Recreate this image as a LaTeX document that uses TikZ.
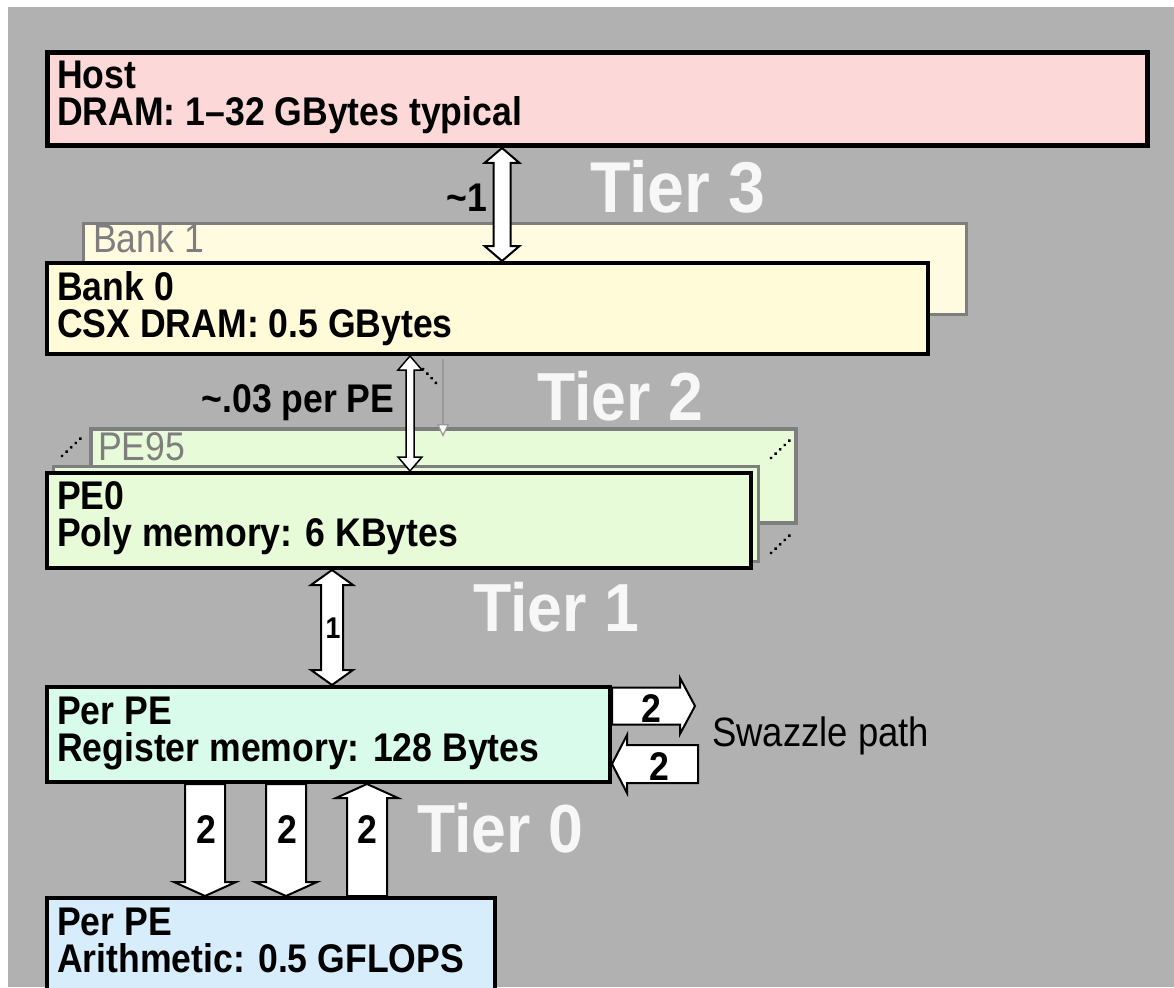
\documentclass[tikz,border=0pt]{standalone}
\usepackage{fontspec}
\setmainfont{Liberation Sans}
\usetikzlibrary{calc,arrows.meta}

\definecolor{bgc}{HTML}{B1B1B1}
\definecolor{hostc}{HTML}{FCD8D8}
\definecolor{bankc}{HTML}{FFFAD8}
\definecolor{bankbc}{HTML}{FFFBE0}
\definecolor{pec}{HTML}{E8FBD8}
\definecolor{regc}{HTML}{D9FBEC}
\definecolor{arc}{HTML}{D8EDFB}
\definecolor{ghostc}{HTML}{7E7E7E}
\definecolor{tierc}{HTML}{F7F7F7}

% narrow lettering used throughout
\newcommand\cond[1]{\scalebox{0.89}[1]{#1}}
\newcommand\condt[1]{\scalebox{0.92}[1]{#1}}

% one-headed hollow block arrow, vertical: [style]{from}{to}{shaft half}{head half}{head length}
\newcommand\blockv[6][]{%
  \draw[blockarrow,#1] let \p1=(#2),\p2=(#3),\n1={(\y2-\y1)/abs(\y2-\y1)} in
    (\x1-#4,\y1) -- (\x1-#4,\y2-\n1*#6) -- (\x1-#5,\y2-\n1*#6) -- (\x1,\y2)
    -- (\x1+#5,\y2-\n1*#6) -- (\x1+#4,\y2-\n1*#6) -- (\x1+#4,\y1) -- cycle;}
% two-headed hollow block arrow, vertical
\newcommand\blockvv[6][]{%
  \draw[blockarrow,#1] let \p1=(#2),\p2=(#3),\n1={(\y2-\y1)/abs(\y2-\y1)} in
    (\x1,\y1) -- (\x1+#5,\y1+\n1*#6) -- (\x1+#4,\y1+\n1*#6) -- (\x1+#4,\y2-\n1*#6)
    -- (\x1+#5,\y2-\n1*#6) -- (\x1,\y2) -- (\x1-#5,\y2-\n1*#6) -- (\x1-#4,\y2-\n1*#6)
    -- (\x1-#4,\y1+\n1*#6) -- (\x1-#5,\y1+\n1*#6) -- cycle;}
% one-headed hollow block arrow, horizontal
\newcommand\blockh[6][]{%
  \draw[blockarrow,#1] let \p1=(#2),\p2=(#3),\n1={(\x2-\x1)/abs(\x2-\x1)} in
    (\x1,\y1-#4) -- (\x2-\n1*#6,\y1-#4) -- (\x2-\n1*#6,\y1-#5) -- (\x2,\y1)
    -- (\x2-\n1*#6,\y1+#5) -- (\x2-\n1*#6,\y1+#4) -- (\x1,\y1+#4) -- cycle;}

\tikzset{
  blockarrow/.style={draw=black, fill=white, line width=2pt, line join=miter},
  blk/.style={draw=black, rectangle, inner sep=0pt, line width=4pt},
  ghost/.style={draw=ghostc, rectangle, inner sep=0pt, line width=3.5pt},
  txt/.style={anchor=base west, inner sep=0pt, text=black,
    font=\fontsize{40}{42}\selectfont\bfseries},
  gtxt/.style={anchor=base west, inner sep=0pt, text=ghostc,
    font=\fontsize{40}{42}\selectfont},
  num/.style={inner sep=0pt, font=\fontsize{40}{42}\selectfont\bfseries},
  tier/.style={inner sep=0pt, text=tierc, font=\fontsize{68}{70}\selectfont\bfseries},
  more/.style={draw=black, line width=3.3pt, line cap=round, dash pattern=on 0.1pt off 6.2pt},
}

\begin{document}
\begin{tikzpicture}[x=1pt,y=-1pt]
\clip (0,0) rectangle (1174,987);
\fill[white] (0,0) rectangle (1174,987);
\fill[bgc] (8,7) rectangle (1174,987);

% cards stacked behind the front ones
\node[ghost, fill=bankbc, minimum width=883pt, minimum height=91pt] (bank1) at (525,269) {};
\node[gtxt] (bank1t) at (93,252) {\cond{Bank 1}};
\node[ghost, fill=pec, minimum width=705pt, minimum height=94pt] (pe95) at (443.5,476) {};
\node[gtxt] (pe95t) at (98,460) {\cond{PE95}};
\node[ghost, fill=pec, minimum width=705pt, minimum height=95pt] (pemid) at (406,514) {};

% front boxes
\node[blk, line width=5pt, fill=hostc, minimum width=1100pt, minimum height=93pt] (host) at (597.5,99) {};
\node[blk, fill=bankc, minimum width=881pt, minimum height=91pt] (bank0) at (487.5,308.5) {};
\node[blk, fill=pec, minimum width=704pt, minimum height=95pt] (pe0) at (399,520.5) {};
\node[blk, fill=regc, minimum width=563pt, minimum height=95pt] (reg) at (328.5,734.5) {};
\node[blk, fill=arc, minimum width=448pt, minimum height=110pt] (arith) at (271,953) {};

% columns of the vertical arrows
\coordinate (c3) at (502,0);
\coordinate (c2) at (410,0);
\coordinate (c1) at (332,0);
\coordinate (c0a) at (205,0);
\coordinate (c0b) at (286,0);
\coordinate (c0c) at (367,0);
\coordinate (t3a) at (c3 |- host.south);
\coordinate (t3b) at (c3 |- bank0.north);
\coordinate (t2a) at (c2 |- bank0.south);
\coordinate (t2b) at (c2 |- pe0.north);
\coordinate (t1a) at (c1 |- pe0.south);
\coordinate (t1b) at (c1 |- reg.north);
\coordinate (t0a) at (c0a |- reg.south);
\coordinate (t0b) at (c0a |- arith.north);
\coordinate (t0c) at (c0b |- reg.south);
\coordinate (t0d) at (c0b |- arith.north);
\coordinate (t0e) at (c0c |- arith.north);
\coordinate (t0f) at (c0c |- reg.south);

% Tier 3: host <-> bank
\blockvv{t3a}{t3b}{8.5pt}{17.5pt}{15pt}
\node[num] (l3) at (467,198) {\cond{\textasciitilde 1}};

% Tier 2: bank <-> PE
\blockvv[line width=1.5pt]{t2a}{t2b}{4pt}{12pt}{14pt}
\coordinate (gtop) at (443,359);
\coordinate (gbot) at (443,437);
\draw[draw=ghostc!80!white, line width=1.3pt, -{Triangle[width=12pt,length=13pt,fill=white]}] (gtop) -- (gbot);
\coordinate (d1a) at (423,369);
\coordinate (d1b) at (437,384);
\draw[more] (d1a) -- (d1b);
\node[num] (l2) at (298,403) {\cond{\textasciitilde.03 per PE}};

% further PEs
\coordinate (d2a) at (62,456); \coordinate (d2b) at (81,438);
\coordinate (d3a) at (771,458); \coordinate (d3b) at (790,440);
\coordinate (d4a) at (771,553); \coordinate (d4b) at (790,535);
\draw[more] (d2a) -- (d2b);
\draw[more] (d3a) -- (d3b);
\draw[more] (d4a) -- (d4b);

% Tier 1: PE memory <-> registers
\blockvv{t1a}{t1b}{11pt}{21pt}{15pt}
\node[inner sep=0pt, font=\fontsize{30}{32}\selectfont\bfseries] (l1) at (333,628) {\cond{1}};

% swazzle path
\coordinate (sw1) at (695,706);
\coordinate (sw2) at (698,764);
\coordinate (sw1s) at (reg.east |- sw1);
\coordinate (sw2e) at (reg.east |- sw2);
\blockh{sw1s}{sw1}{18.5pt}{28pt}{15pt}
\blockh{sw2}{sw2e}{19pt}{29pt}{15pt}
\node[num] (s1) at (651,709) {\cond{2}};
\node[num] (s2) at (659,767) {\cond{2}};
\node[anchor=base west, inner sep=0pt, font=\fontsize{41}{43}\selectfont] (swz) at (712,746) {\cond{Swazzle path}};

% Tier 0: registers <-> arithmetic
\blockv{t0a}{t0b}{20pt}{31pt}{14pt}
\blockv{t0c}{t0d}{20pt}{31pt}{14pt}
\blockv{t0e}{t0f}{20pt}{31pt}{14pt}
\node[num] (a1) at (206,830) {\cond{2}};
\node[num] (a2) at (287,830) {\cond{2}};
\node[num] (a3) at (367,830) {\cond{2}};

% box borders over the arrow ends
\node[blk, line width=5pt, minimum width=1100pt, minimum height=93pt] (hostb) at (host) {};
\node[blk, minimum width=881pt, minimum height=91pt] (bank0b) at (bank0) {};
\node[blk, minimum width=704pt, minimum height=95pt] (pe0b) at (pe0) {};
\node[blk, minimum width=563pt, minimum height=95pt] (regb) at (reg) {};
\node[blk, minimum width=448pt, minimum height=110pt] (arithb) at (arith) {};

% box texts
\node[txt] (hostt1) at (57,89) {\cond{Host}};
\node[txt] (hostt2) at (57,126) {\cond{DRAM: 1--32 GBytes typical}};
\node[txt] (bank0t1) at (57,300) {\cond{Bank 0}};
\node[txt] (bank0t2) at (57,337) {\cond{CSX DRAM: 0.5 GBytes}};
\node[txt] (pe0t1) at (57,509) {\cond{PE0}};
\node[txt] (pe0t2) at (57,546) {\cond{Poly memory: 6 KBytes}};
\node[txt] (regt1) at (57,724) {\cond{Per PE}};
\node[txt] (regt2) at (57,761) {\cond{Register memory: 128 Bytes}};
\node[txt] (aritht1) at (57,935) {\cond{Per PE}};
\node[txt] (aritht2) at (57,972) {\cond{Arithmetic: 0.5 GFLOPS}};

% tier captions
\node[tier, font=\fontsize{72}{74}\selectfont\bfseries] (tier3) at (678,187) {\condt{Tier 3}};
\node[tier] (tier2) at (620,396) {\condt{Tier 2}};
\node[tier] (tier1) at (556,607) {\condt{Tier 1}};
\node[tier] (tier0) at (500,828) {\condt{Tier 0}};
\end{tikzpicture}
\end{document}
